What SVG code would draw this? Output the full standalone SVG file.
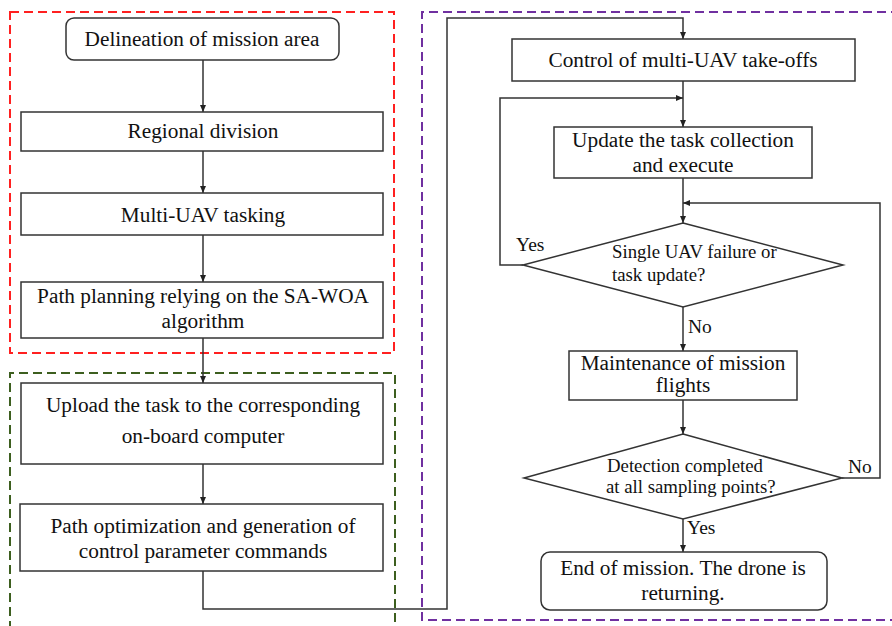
<svg xmlns="http://www.w3.org/2000/svg" width="892" height="626" viewBox="0 0 892 626">
<defs>
<marker id="ah" markerWidth="8" markerHeight="8" refX="7" refY="4" orient="auto" markerUnits="userSpaceOnUse">
<path d="M0,1 L7,4 L0,7 Z" fill="#222"/>
</marker>
<style>
.box{fill:#fff;stroke:#333;stroke-width:1.5}
.t{font-size:21.3px;fill:#111;text-anchor:middle}
.ts{font-size:18.8px;fill:#111}
.lb{font-size:19.5px;fill:#111}
.ca{fill:none;stroke:#333;stroke-width:1.5;marker-end:url(#ah)}
.frame{fill:none;stroke-width:2;stroke-dasharray:9,5}
</style>
</defs>
<rect width="892" height="626" fill="#fff"/>
<g id="frames">
<rect class="frame" x="10" y="12" width="384" height="341" stroke="#ff2020"/>
<path class="frame" d="M10,630 L10,373 L395,373 L395,630" stroke="#3d5f1f"/>
<path class="frame" d="M900,12 L422,12 L422,620 L900,620" stroke="#7030a0"/>
</g>
<g id="connectors">
<line class="ca" x1="203" y1="60" x2="203" y2="112"/>
<line class="ca" x1="203" y1="151" x2="203" y2="193"/>
<line class="ca" x1="203" y1="235" x2="203" y2="282"/>
<line class="ca" x1="203" y1="338" x2="203" y2="383"/>
<line class="ca" x1="203" y1="464" x2="203" y2="504"/>
<path class="ca" d="M203,571 L203,609 L447,609 L447,18 L683,18 L683,39"/>
<line class="ca" x1="683" y1="81" x2="683" y2="127"/>
<path class="ca" d="M523,265 L500,265 L500,98 L683,98"/>
<line class="ca" x1="683" y1="178" x2="683" y2="223"/>
<line class="ca" x1="683" y1="307" x2="683" y2="351"/>
<line class="ca" x1="683" y1="400" x2="683" y2="434"/>
<path class="ca" d="M842,478 L880,478 L880,203 L683,203"/>
<line class="ca" x1="683" y1="519" x2="683" y2="552"/>
<text class="lb" font-family="Liberation Serif" x="516" y="251">Yes</text>
<text class="lb" font-family="Liberation Serif" x="688" y="333">No</text>
<text class="lb" font-family="Liberation Serif" x="848" y="473">No</text>
<text class="lb" font-family="Liberation Serif" x="687" y="534">Yes</text>
</g>
<g id="n1">
<rect class="box" x="66" y="18" width="273" height="42" rx="8"/>
<text class="t" font-family="Liberation Serif" x="202" y="46">Delineation of mission area</text>
</g>
<g id="n2">
<rect class="box" x="21" y="112" width="362" height="39"/>
<text class="t" font-family="Liberation Serif" x="203" y="138">Regional division</text>
</g>
<g id="n3">
<rect class="box" x="21" y="193" width="362" height="42"/>
<text class="t" font-family="Liberation Serif" x="203" y="222">Multi-UAV tasking</text>
</g>
<g id="n4">
<rect class="box" x="21" y="282" width="362" height="56"/>
<text class="t" font-family="Liberation Serif" x="203" y="303">Path planning relying on the SA-WOA</text>
<text class="t" font-family="Liberation Serif" x="203" y="328">algorithm</text>
</g>
<g id="n5">
<rect class="box" x="21" y="383" width="362" height="81"/>
<text class="t" font-family="Liberation Serif" x="203" y="412">Upload the task to the corresponding</text>
<text class="t" font-family="Liberation Serif" x="203" y="443">on-board computer</text>
</g>
<g id="n6">
<rect class="box" x="20" y="504" width="363" height="67"/>
<text class="t" font-family="Liberation Serif" x="203" y="533">Path optimization and generation of</text>
<text class="t" font-family="Liberation Serif" x="203" y="558">control parameter commands</text>
</g>
<g id="n7">
<rect class="box" x="512" y="39" width="343" height="42"/>
<text class="t" font-family="Liberation Serif" x="683" y="67">Control of multi-UAV take-offs</text>
</g>
<g id="n8">
<rect class="box" x="554" y="127" width="258" height="51"/>
<text class="t" font-family="Liberation Serif" x="683" y="147">Update the task collection</text>
<text class="t" font-family="Liberation Serif" x="683" y="172">and execute</text>
</g>
<g id="n9">
<polygon class="box" points="683,223 843,265 683,307 523,265"/>
<text class="ts" font-family="Liberation Serif" x="612" y="258">Single UAV failure or</text>
<text class="ts" font-family="Liberation Serif" x="612" y="281">task update?</text>
</g>
<g id="n10">
<rect class="box" x="569" y="351" width="228" height="49"/>
<text class="t" font-family="Liberation Serif" x="683" y="370">Maintenance of mission</text>
<text class="t" font-family="Liberation Serif" x="683" y="392">flights</text>
</g>
<g id="n11">
<polygon class="box" points="683,434 842,478 683,519 524,478"/>
<text class="ts" font-family="Liberation Serif" x="607" y="472">Detection completed</text>
<text class="ts" font-family="Liberation Serif" x="606" y="493">at all sampling points?</text>
</g>
<g id="n12">
<rect class="box" x="541" y="552" width="286" height="58" rx="9"/>
<text class="t" font-family="Liberation Serif" x="683" y="575">End of mission. The drone is</text>
<text class="t" font-family="Liberation Serif" x="683" y="600">returning.</text>
</g>
</svg>
